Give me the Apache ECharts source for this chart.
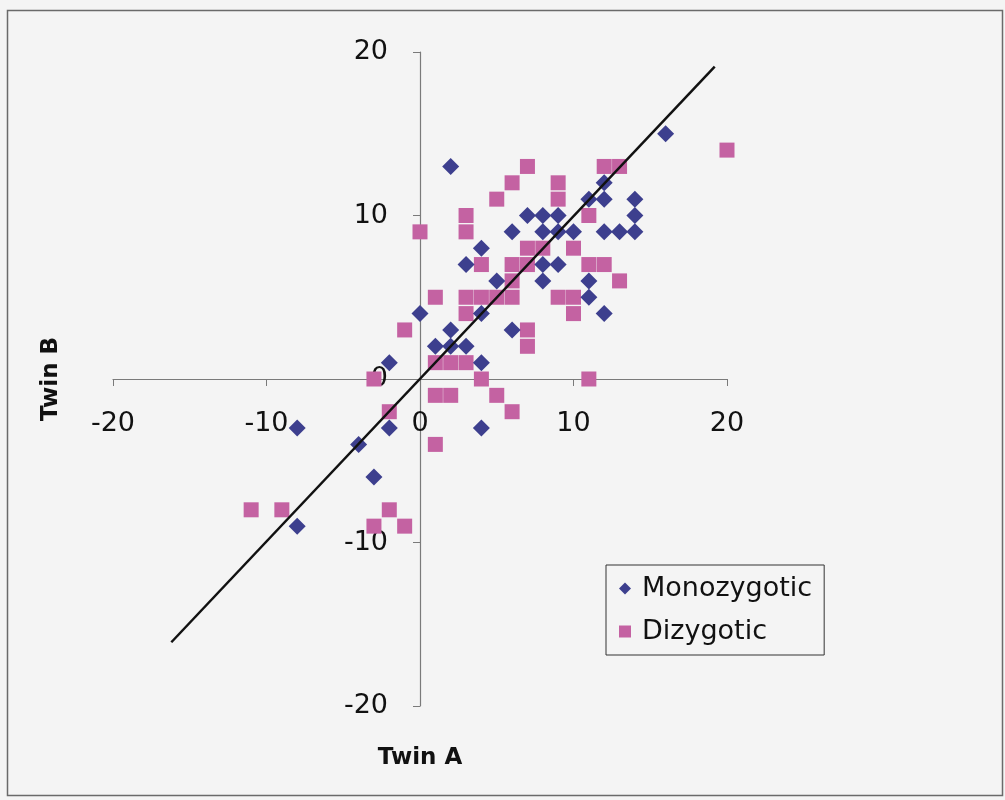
<!DOCTYPE html>
<html>
<head>
<meta charset="utf-8">
<script src="https://cdn.jsdelivr.net/npm/echarts@6/dist/echarts.min.js"></script>
<style>
  html, body { margin: 0; padding: 0; background: #f4f4f4; }
  #chart { width: 1005px; height: 800px; }
</style>
</head>
<body>
<div id="chart"></div>
<script>
// Twin A / Twin B pairs
const monozygotic = [
  [16, 15], [2, 13], [12, 12], [11, 11], [12, 11], [14, 11],
  [7, 10], [8, 10], [9, 10], [14, 10],
  [6, 9], [8, 9], [9, 9], [10, 9], [12, 9], [13, 9], [14, 9],
  [4, 8], [3, 7], [8, 7], [9, 7], [5, 6], [8, 6], [11, 6], [11, 5],
  [0, 4], [4, 4], [12, 4], [2, 3], [6, 3], [1, 2], [2, 2], [3, 2],
  [-2, 1], [4, 1], [-8, -3], [-2, -3], [4, -3], [-4, -4], [-3, -6], [-8, -9]
]

const dizygotic = [
  [20, 14], [7, 13], [12, 13], [13, 13], [6, 12], [9, 12], [5, 11], [9, 11],
  [3, 10], [11, 10], [0, 9], [3, 9], [7, 8], [8, 8], [10, 8],
  [4, 7], [6, 7], [7, 7], [11, 7], [12, 7], [6, 6], [13, 6],
  [1, 5], [3, 5], [4, 5], [5, 5], [6, 5], [9, 5], [10, 5], [3, 4], [10, 4],
  [-1, 3], [7, 3], [7, 2], [1, 1], [2, 1], [3, 1], [-3, 0], [4, 0], [11, 0],
  [1, -1], [2, -1], [5, -1], [-2, -2], [6, -2], [1, -4],
  [-11, -8], [-9, -8], [-2, -8], [-3, -9], [-1, -9]
]

// fitted line end points
const fitLine = [[-16.2, -16.1], [19.2, 19.1]]

const axisMin = -20
const axisMax = 20
const axisStep = 10

const chart = echarts.init(document.getElementById("chart"))

const font = "'DejaVu Sans', Arial, sans-serif"

const option = {
  backgroundColor: "#f4f4f4",
  animation: false,
  graphic: [
    {
      type: "rect",
      shape: { x: 7.5, y: 10.5, width: 995, height: 785 },
      style: { fill: "none", stroke: "#6a6a6a", lineWidth: 1.5 },
      silent: true,
    },
  ],
  grid: {
    left: 113,
    top: 52,
    width: 614,
    height: 654,
    containLabel: false,
    outerBoundsMode: "none",
  },
  legend: {
    data: ["Monozygotic", "Dizygotic"],
    orient: "vertical",
    left: 606,
    top: 565,
    borderColor: "#333",
    borderWidth: 1,
    borderRadius: 0,
    padding: [10, 12, 10, 13],
    itemGap: 16,
    itemWidth: 12,
    itemHeight: 12,
    textStyle: {
      fontSize: 27,
      fontFamily: font,
      color: "#111",
      padding: [0, 0, 0, 6],
    },
  },
  xAxis: {
    type: "value",
    min: axisMin,
    max: axisMax,
    interval: axisStep,
    name: "Twin A",
    nameLocation: "middle",
    nameGap: 41,
    nameTextStyle: {
      fontSize: 23,
      fontWeight: "bold",
      fontFamily: font,
      color: "#111",
    },
    axisLine: {
      onZero: true,
      lineStyle: { color: "#7a7a7a", width: 1.2 },
    },
    axisTick: {
      show: true,
      inside: false,
      length: 7,
      lineStyle: { color: "#7a7a7a" },
    },
    axisLabel: {
      margin: -296,
      fontSize: 27,
      fontFamily: font,
      color: "#111",
    },
    splitLine: { show: false },
  },
  yAxis: {
    type: "value",
    min: axisMin,
    max: axisMax,
    interval: axisStep,
    name: "Twin B",
    nameLocation: "middle",
    nameGap: 50,
    nameTextStyle: {
      fontSize: 23,
      fontWeight: "bold",
      fontFamily: font,
      color: "#111",
    },
    axisLine: {
      onZero: true,
      lineStyle: { color: "#7a7a7a", width: 1.2 },
    },
    axisTick: {
      show: true,
      inside: false,
      length: 7,
      lineStyle: { color: "#7a7a7a" },
    },
    axisLabel: {
      margin: -275,
      fontSize: 27,
      fontFamily: font,
      color: "#111",
    },
    splitLine: { show: false },
  },
  series: [
    {
      name: "Monozygotic",
      type: "scatter",
      symbol: "diamond",
      symbolSize: 17,
      data: monozygotic,
      itemStyle: { color: "#3d3f8e", opacity: 1 },
      z: 3,
    },
    {
      name: "Dizygotic",
      type: "scatter",
      symbol: "rect",
      symbolSize: 15,
      data: dizygotic,
      itemStyle: { color: "#c462a2", opacity: 1 },
      z: 2,
    },
    {
      name: "fit",
      type: "line",
      data: fitLine,
      symbol: "none",
      lineStyle: { color: "#111", width: 2.5 },
      z: 4,
      silent: true,
    },
  ],
}

chart.setOption(option)
</script>
</body>
</html>
